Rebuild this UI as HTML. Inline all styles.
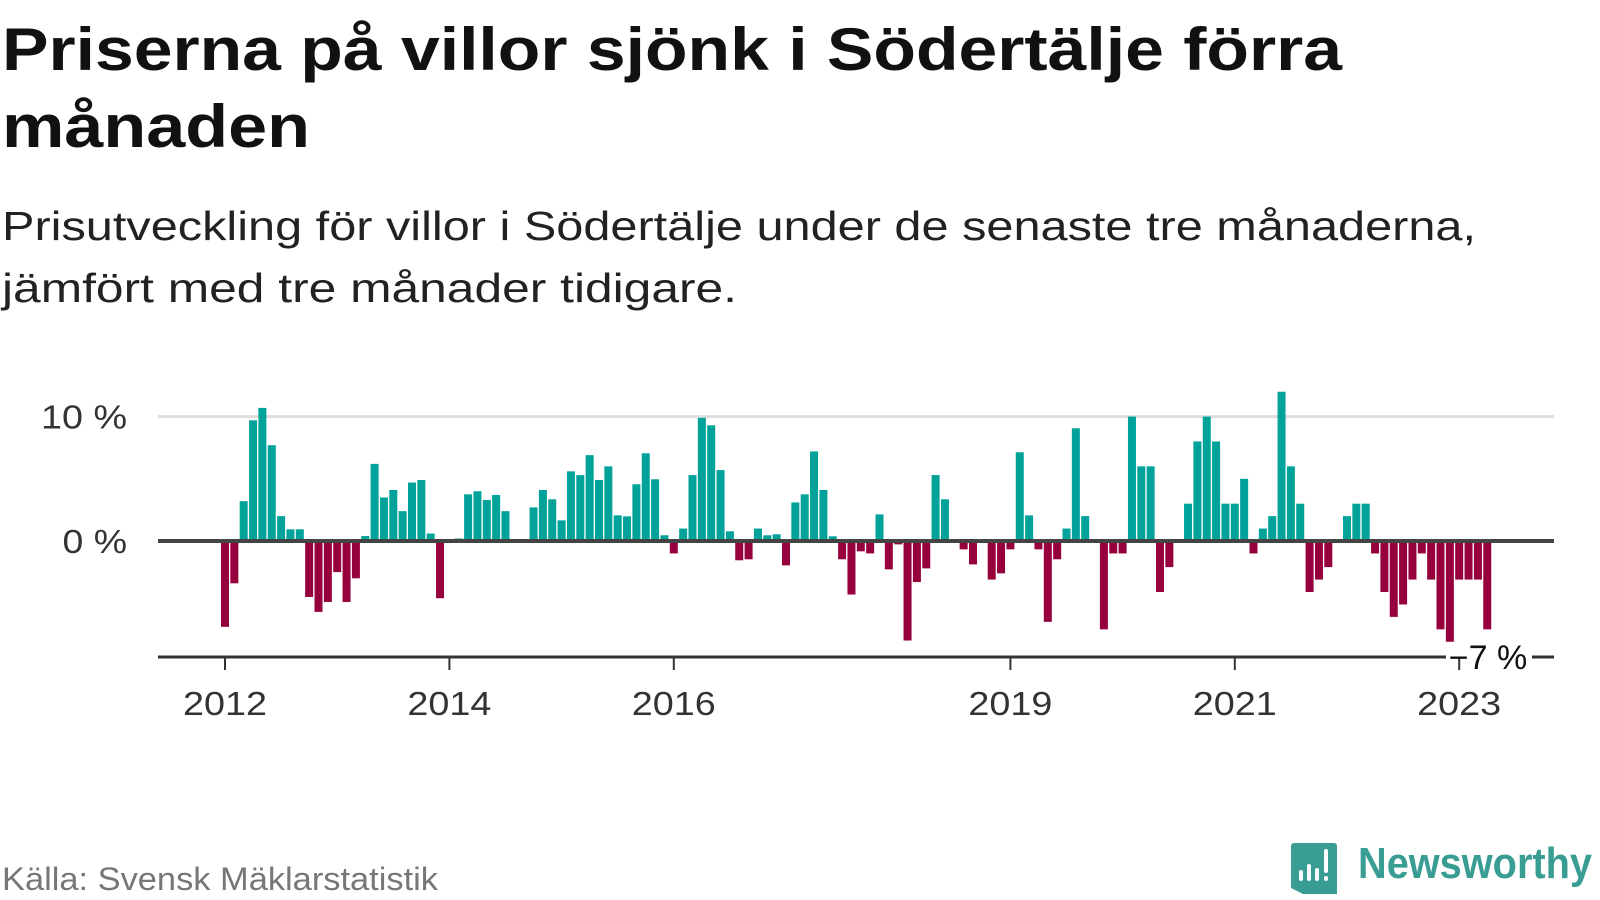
<!DOCTYPE html>
<html><head><meta charset="utf-8"><style>
html,body{margin:0;padding:0;background:#fff;}
svg{display:block;}
</style></head><body>
<svg id="chart" width="1600" height="900" viewBox="0 0 1600 900" xmlns="http://www.w3.org/2000/svg" font-family="'Liberation Sans', 'DejaVu Sans', sans-serif">
  <text x="2" y="70" font-size="60" font-weight="bold" fill="#111" textLength="1340" lengthAdjust="spacingAndGlyphs">Priserna på villor sjönk i Södertälje förra</text>
  <text x="2" y="147" font-size="60" font-weight="bold" fill="#111" textLength="308" lengthAdjust="spacingAndGlyphs">månaden</text>
  <text x="2" y="240" font-size="41" fill="#222" textLength="1474" lengthAdjust="spacingAndGlyphs">Prisutveckling för villor i Södertälje under de senaste tre månaderna,</text>
  <text x="2" y="302" font-size="41" fill="#222" textLength="735" lengthAdjust="spacingAndGlyphs">jämfört med tre månader tidigare.</text>
  <g id="plot"></g>
  <text x="2" y="890" font-size="32" fill="#777" textLength="436" lengthAdjust="spacingAndGlyphs">Källa: Svensk Mäklarstatistik</text>
  <g>
    <path d="M1294 843 h40 a3 3 0 0 1 3 3 v48 h-34 l-12 -6 v-42 a3 3 0 0 1 3 -3z" fill="#3a9d94"/>
    <rect x="1299" y="870" width="4" height="11" rx="2" fill="#fff"/>
    <rect x="1307" y="864" width="4" height="17" rx="2" fill="#fff"/>
    <rect x="1315" y="868" width="4" height="13" rx="2" fill="#fff"/>
    <rect x="1324" y="849" width="4" height="24" rx="2" fill="#fff"/>
    <rect x="1324" y="876" width="4" height="5" rx="2" fill="#fff"/>
    <text x="1358" y="878" font-size="44" font-weight="bold" fill="#3a9d94" textLength="234" lengthAdjust="spacingAndGlyphs">Newsworthy</text>
  </g>
</svg>
<script>
const startYear = 2012;
const values = [
-6.9,-3.4,3.2,9.7,10.7,7.7,2.0,0.94,0.94,-4.5,-5.7,-4.9,
-2.5,-4.9,-3.0,0.4,6.2,3.5,4.1,2.4,4.7,4.9,0.6,-4.6,
null,0.2,3.75,4.0,3.3,3.7,2.4,null,null,2.7,4.1,3.35,
1.66,5.6,5.3,6.9,4.9,6.0,2.06,1.98,4.56,7.05,4.96,0.46,
-1.0,1.0,5.3,9.9,9.3,5.7,0.78,-1.55,-1.47,1.0,0.46,0.54,
-1.96,3.1,3.75,7.2,4.1,0.38,-1.47,-4.3,-0.83,-1.0,2.14,-2.28,
-0.27,-8.0,-3.3,-2.2,5.3,3.35,null,-0.67,-1.88,null,-3.1,-2.6,
-0.67,7.13,2.06,-0.67,-6.5,-1.47,1.0,9.06,2.0,null,-7.1,-1.0,
-1.0,10,6,6,-4.1,-2.1,null,3,8,10,8,3,
3,5,-1,1,2,12,6,3,-4.1,-3.1,-2.1,null,
2,3,3,-1,-4.1,-6.1,-5.1,-3.1,-1,-3.1,-7.1,-8.1,
-3.1,-3.1,-3.1,-7.1
];
const tickYears = [2012, 2014, 2016, 2019, 2021, 2023];
const yTicks = [0, 10];
const yTickLabels = ["0 %", "10 %"];
const lastLabel = "−7 %";

const NS = "http://www.w3.org/2000/svg";
const plot = document.getElementById('plot');
const x0 = 225, step = 9.35, barW = 8;
const zeroY = 541, pxPerUnit = 12.44;
const xLeft = 158, xRight = 1554, axisY = 657;
function xScale(i){ return x0 + i*step; }
function yScale(v){ return zeroY - v*pxPerUnit; }
function mk(tag, attrs){ const e=document.createElementNS(NS,tag); for(const k in attrs) e.setAttribute(k, attrs[k]); plot.appendChild(e); return e; }

yTicks.forEach((t,k)=>{
  if(t!==0){
    const g = mk('line',{x1:xLeft,x2:xRight,y1:yScale(t),y2:yScale(t),stroke:'#dddddd','stroke-width':3});
    
    
  }
  const l = mk('text',{x:127,y:yScale(t)+12,'font-size':33,fill:'#333','text-anchor':'end',textLength: yTickLabels[k].length*21.5, lengthAdjust:'spacingAndGlyphs'});
  l.textContent = yTickLabels[k];
  
  
});

values.forEach((v,i)=>{
  if(v===null) return;
  const y = v>=0 ? yScale(v) : zeroY;
  const h = Math.abs(yScale(v)-zeroY);
  const r = mk('rect',{x:xScale(i)-barW/2,y:y,width:barW,height:h,fill: v>=0 ? '#00a29a' : '#96003c'});
  
  
});

const zl = mk('line',{x1:xLeft,x2:xRight,y1:zeroY,y2:zeroY,stroke:'#444','stroke-width':4});



const a1 = mk('line',{x1:xLeft,x2:1446,y1:axisY,y2:axisY,stroke:'#333','stroke-width':3});


const a2 = mk('line',{x1:1532,x2:xRight,y1:axisY,y2:axisY,stroke:'#333','stroke-width':3});



tickYears.forEach(yr=>{
  const i = (yr-startYear)*12;
  const t = mk('line',{x1:xScale(i),x2:xScale(i),y1:axisY,y2:axisY+13,stroke:'#333','stroke-width':2});
  
  
  const l = mk('text',{x:xScale(i),y:715,'font-size':33,fill:'#333','text-anchor':'middle',textLength:84,lengthAdjust:'spacingAndGlyphs'});
  l.textContent = String(yr);
  
  
});

const ll = mk('text',{x:1488,y:669,'font-size':34,fill:'#111','text-anchor':'middle'});
ll.textContent = lastLabel;


</script>
</body></html>
